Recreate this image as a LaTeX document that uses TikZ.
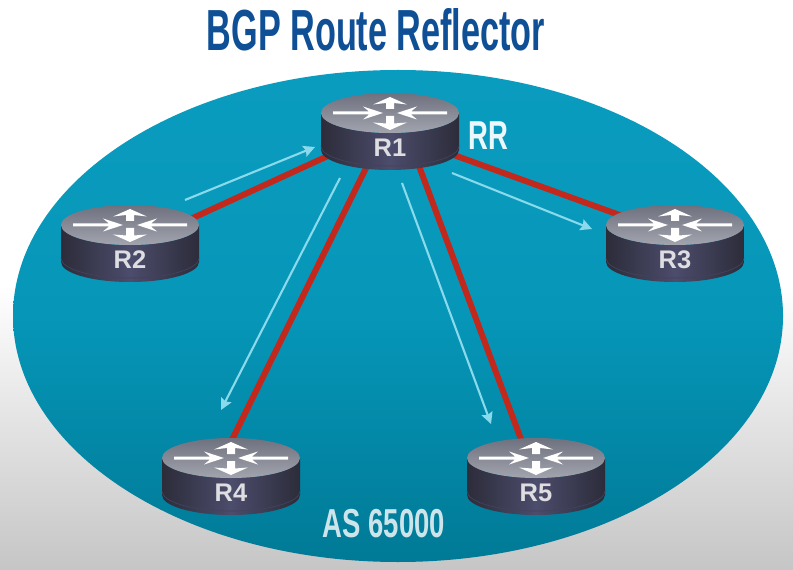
\documentclass[tikz,border=0pt]{standalone}
\usepackage{fontspec}
\setmainfont{Liberation Sans}
\newfontfamily\narrowfont[FakeStretch=0.68]{Liberation Sans}
\newfontfamily\titlefont[FakeStretch=0.59]{Liberation Sans}
\usetikzlibrary{arrows.meta}

\definecolor{titleblue}{HTML}{0F4F96}
\definecolor{seatop}{HTML}{0A9CBF}
\definecolor{seamid}{HTML}{0696B8}
\definecolor{seabottom}{HTML}{007A96}
\definecolor{linkred}{HTML}{C2281C}
\definecolor{updatecyan}{HTML}{8ADAEC}
\definecolor{routerdark}{HTML}{2C2C3A}
\definecolor{routermid}{HTML}{4C4C6C}
\definecolor{facetop}{HTML}{6E717E}
\definecolor{facebottom}{HTML}{A2A4AE}
\definecolor{labelgray}{HTML}{DDDDE2}

\tikzset{
  link/.style={draw=linkred,line width=3.4pt},
  update/.style={draw=updatecyan,line width=1.2pt,-{Stealth[length=6.5pt,width=6.5pt,inset=1pt]}},
  routerlabel/.style={font=\fontsize{14.5}{16}\selectfont\bfseries,text=labelgray,inner sep=0pt},
  biglabel/.style={font=\narrowfont\bfseries\fontsize{23}{26}\selectfont,inner sep=0pt}
}

\begin{document}
\begin{tikzpicture}[x=0.02cm,y=-0.02cm]

% Page background
\shade[top color=white,bottom color=gray!45,middle color=white]
  (0,0) rectangle (793,570);

% The AS
\shade[top color=seatop,bottom color=seabottom,middle color=seamid] (398,316) ellipse (385 and 246);

% End points of the links
\coordinate (r1w) at (340,150.4);
\coordinate (r2e) at (185,221.6);
\coordinate (r1e) at (440,150);
\coordinate (r3w) at (625,217);
\coordinate (r1sw) at (370,160);
\coordinate (r4n) at (225,454);
\coordinate (r1se) at (413,150);
\coordinate (r5n) at (525,450);

\draw[link] (r1w) -- (r2e);
\draw[link] (r1e) -- (r3w);
\draw[link] (r1sw) -- (r4n);
\draw[link] (r1se) -- (r5n);

% Routers
\foreach \name/\txt/\x/\y in {r1/R1/390/113,r2/R2/130/225,r3/R3/675/225,r4/R4/231/458,r5/R5/536/458}
{
  \begin{scope}[shift={(\x,\y)}]
    \shade[left color=routerdark,right color=routerdark,middle color=routermid]
      (-69,0) -- (-69,37) arc[start angle=180,end angle=0,x radius=69,y radius=20]
      -- (69,0) arc[start angle=0,end angle=180,x radius=69,y radius=20] -- cycle;
    \draw[routermid!70!routerdark,line width=0.4pt]
      (-69,33) arc[start angle=180,end angle=0,x radius=69,y radius=20];
    \shade[top color=facetop,bottom color=facebottom] (0,0) ellipse (69 and 20);
    % Arrows on the top face
    \fill[white] (-57,-1.5) -- (-21,-1.5) -- (-27,-6.5) -- (-7,0) -- (-27,6.5) -- (-21,1.5) -- (-57,1.5) -- cycle;
    \fill[white] (57,-1.5) -- (21,-1.5) -- (27,-6.5) -- (7,0) -- (27,6.5) -- (21,1.5) -- (57,1.5) -- cycle;
    \fill[white] (-4,-4) -- (-4,-10) -- (-17,-8.5) -- (0,-16) -- (17,-8.5) -- (4,-10) -- (4,-4) -- cycle;
    \fill[white] (-4,3) -- (-4,10.5) -- (-17,9.5) -- (0,17) -- (17,9.5) -- (4,10.5) -- (4,3) -- cycle;
    \node[routerlabel] (\name) at (0,35) {\txt};
  \end{scope}
}

% Update arrows
\coordinate (upa) at (185,200);
\coordinate (upb) at (315,147);
\coordinate (upc) at (340,178);
\coordinate (upd) at (221,410);
\coordinate (upe) at (452,173);
\coordinate (upf) at (592,229);
\coordinate (upg) at (402,183);
\coordinate (uph) at (491,424);

\draw[update] (upa) -- (upb);
\draw[update] (upc) -- (upd);
\draw[update] (upe) -- (upf);
\draw[update] (upg) -- (uph);

\node[font=\titlefont\bfseries\fontsize{33}{36}\selectfont,text=titleblue,inner sep=0pt] (title) at (376,30) {BGP Route Reflector};
\node[biglabel,text=white!92!seatop] (rr) at (488,136) {RR};
\node[biglabel,text=white!80!seabottom] (as) at (384,524) {AS 65000};

\end{tikzpicture}
\end{document}
